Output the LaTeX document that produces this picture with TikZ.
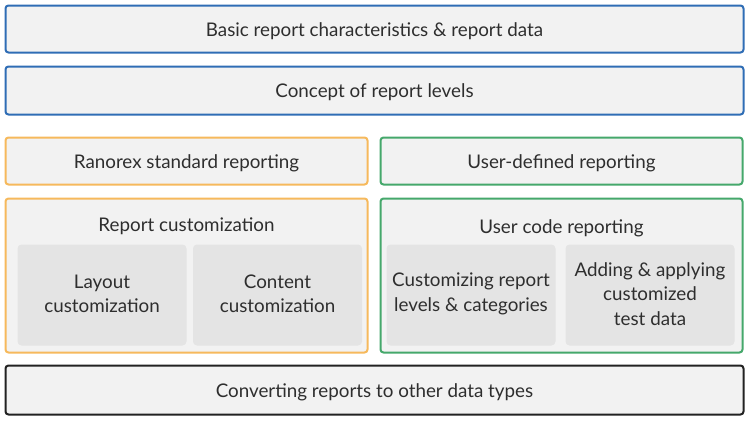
\documentclass[tikz,border=0pt]{standalone}
\usepackage{fontspec}
\setmainfont{Lato}
\definecolor{cblue}{HTML}{2F6DB5}
\definecolor{corange}{HTML}{F6B95C}
\definecolor{cgreen}{HTML}{45A86B}
\definecolor{cblack}{HTML}{222222}
\definecolor{cfill}{HTML}{F2F2F2}
\definecolor{cinner}{HTML}{E4E4E4}
\definecolor{ctext}{HTML}{2E2E2E}
\tikzset{
  box/.style={draw, line width=2pt, rounded corners=3pt, fill=cfill, inner sep=0pt},
  inbox/.style={fill=cinner, rounded corners=4pt, inner sep=0pt, minimum width=169pt, minimum height=101pt},
  lbl/.style={text=ctext, font=\fontsize{18.8}{24.5}\selectfont, inner sep=0pt, align=center}
}
\begin{document}
\begin{tikzpicture}[x=1pt,y=-1pt]
\useasboundingbox (0,0) rectangle (750,426);
\node[box, draw=cblue, minimum width=738pt, minimum height=47pt] (b1) at (374.5,29) {};
\node[box, draw=cblue, minimum width=738pt, minimum height=48pt] (b2) at (374.5,90.5) {};
\node[box, draw=corange, minimum width=362pt, minimum height=47pt] (o1) at (186.5,161) {};
\node[box, draw=cgreen, minimum width=362pt, minimum height=47pt] (g1) at (561.5,161) {};
\node[box, draw=corange, minimum width=362pt, minimum height=154pt] (o2) at (186.5,275.5) {};
\node[box, draw=cgreen, minimum width=362pt, minimum height=154pt] (g2) at (561.5,275.5) {};
\node[inbox] (l1) at (102,295) {};
\node[inbox] (l2) at (277.5,295) {};
\node[inbox] (r1) at (471,295) {};
\node[inbox] (r2) at (650,295) {};
\node[box, draw=cblack, minimum width=738pt, minimum height=49pt] (b3) at (374.5,390) {};
\node[lbl] (b1t) at (374.5,31) {Basic report characteristics \& report data};
\node[lbl] (b2t) at (374.5,92.5) {Concept of report levels};
\node[lbl] (o1t) at (186.5,163) {Ranorex standard reporting};
\node[lbl] (g1t) at (561.5,163) {User-defined reporting};
\node[lbl] (o2t) at (186.5,226) {Report customization};
\node[lbl] (g2t) at (561.5,228) {User code reporting};
\node[lbl] (l1t) at (102,294) {Layout\\customization};
\node[lbl] (l2t) at (277.5,294) {Content\\customization};
\node[lbl] (r1t) at (471,294) {Customizing report\\levels \& categories};
\node[lbl] (r2t) at (650,294) {Adding \& applying\\customized\\test data};
\node[lbl] (b3t) at (374.5,392) {Converting reports to other data types};
\end{tikzpicture}
\end{document}
